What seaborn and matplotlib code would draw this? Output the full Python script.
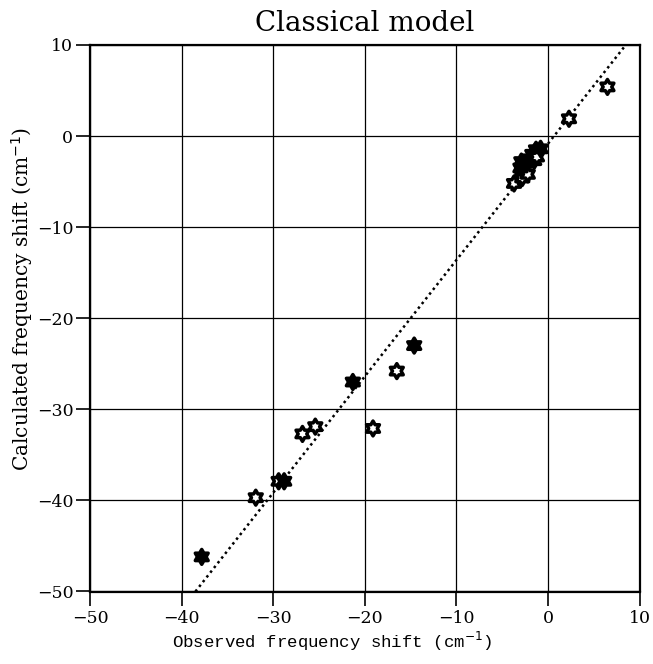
import numpy as np
import pandas as pd
import matplotlib
matplotlib.use("Agg")
import matplotlib.pyplot as plt
from matplotlib.path import Path
import seaborn as sns

# ---- data ----
observed = [-37.8, -31.9, -29.4, -28.8, -26.8, -25.4, -21.3, -19.1, -16.5, -14.6,
            -3.7, -2.8, -2.2, -3.0, -2.9, -2.5, -2.0, -1.7, -1.5, -1.3, -1.2, -0.8,
            2.3, 6.5]
calculated = [-46.2, -39.7, -37.9, -37.9, -32.7, -31.9, -27.0, -32.1, -25.8, -23.0,
              -5.2, -4.6, -4.2, -3.5, -2.8, -3.0, -2.5, -2.0, -2.7, -1.5, -2.3, -1.4,
              1.9, 5.4]
kind = ["filled", "open", "open", "filled", "open", "open", "filled", "open", "open", "filled",
        "open", "open", "open", "filled", "filled", "filled", "filled", "filled", "filled", "filled", "open", "filled",
        "open", "open"]
fit_slope = 1.277
fit_intercept = -0.85
x_ticks = [-50, -40, -30, -20, -10, 0, 10]
y_ticks = [-50, -40, -30, -20, -10, 0, 10]

df = pd.DataFrame({"obs": observed, "calc": calculated, "kind": kind})

# hexagram marker
ang_out = np.deg2rad(90 + 60 * np.arange(6))
ang_in = ang_out + np.deg2rad(30)
r_in = 1 / np.sqrt(3)
verts = []
for ao, ai in zip(ang_out, ang_in):
    verts.append((np.cos(ao), np.sin(ao)))
    verts.append((r_in * np.cos(ai), r_in * np.sin(ai)))
verts.append(verts[0])
codes = [Path.MOVETO] + [Path.LINETO] * 11 + [Path.CLOSEPOLY]
hexagram = Path(verts, codes)

sns.set_theme(style="white")
plt.rcParams["font.family"] = ["DejaVu Serif", "DejaVu Sans"]

fig = plt.figure(figsize=(6.53, 6.64), dpi=100)
ax = fig.add_axes([90 / 653, 1 - 591.5 / 664, 549.5 / 653, 546.5 / 664])

ax.axline((0, fit_intercept), slope=fit_slope, color="black", linestyle=(0, (1, 1.4)),
          linewidth=1.8, zorder=2)

sns.scatterplot(data=df, x="obs", y="calc", hue="kind",
                palette={"filled": "black", "open": "white"},
                marker=hexagram, s=115, edgecolor="black", linewidth=2.5,
                legend=False, ax=ax, zorder=3)

ax.set_xlim(-50, 10)
ax.set_ylim(-50, 10)
ax.set_xticks(x_ticks)
ax.set_yticks(y_ticks)
ax.set_xticklabels([str(t).replace("-", "\u2212") for t in x_ticks])
ax.set_yticklabels([str(t).replace("-", "\u2212") for t in y_ticks])
ax.grid(True, color="black", linewidth=0.9)
ax.set_axisbelow(True)
for sp in ax.spines.values():
    sp.set_color("black")
    sp.set_linewidth(1.6)
ax.tick_params(axis="both", direction="out", length=10, width=1.2, color="black",
               labelsize=12.5, labelcolor="black", pad=3, left=True, bottom=True)
ax.tick_params(axis="y", pad=2)

ax.set_title("Classical model", fontsize=20, pad=10, color="black")
ax.set_xlabel("Observed frequency shift (cm$^{-1}$)", fontsize=12.5,
              family=["Liberation Mono", "DejaVu Sans Mono"], color="black")
ax.xaxis.set_label_coords(0.44, -0.07)
ax.set_ylabel("Calculated frequency shift (cm$^{-1}$)", fontsize=14.5,
              color="black")
ax.yaxis.set_label_coords(-0.1, 0.535)

fig.savefig("out.png", dpi=100, facecolor="white")
